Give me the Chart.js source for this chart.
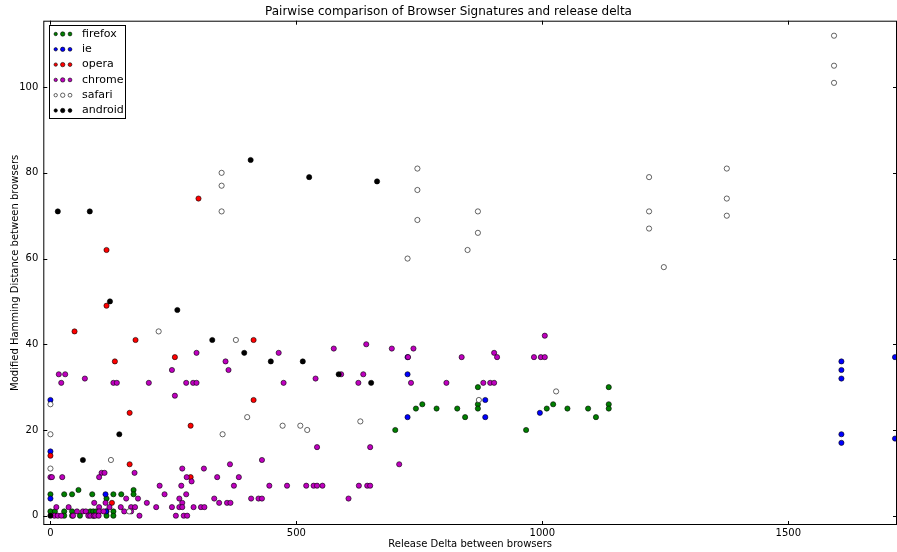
<!DOCTYPE html>
<html>
<head>
<meta charset="utf-8">
<script src="https://cdn.jsdelivr.net/npm/chart.js@4/dist/chart.umd.min.js"></script>
<style>
  body { margin: 0; background: #fff; }
  canvas { display: block; }
</style>
</head>
<body>
<canvas id="chart" width="897" height="552"></canvas>
<script>
// ---- data ----
const seriesNames = ['firefox', 'ie', 'opera', 'chrome', 'safari', 'android'];

const firefoxX = [57, 169, 0, 28, 44, 85, 128, 144, 169, 114, 0, 9, 28, 44, 81, 87, 93, 114, 128, 28, 44, 60, 87, 114, 128,
    869, 1135, 756, 869, 1022, 1135, 743, 785, 827, 869, 1009, 1051, 1093, 1135, 843, 1109, 701, 967];
const firefoxY = [6, 6, 5, 5, 5, 5, 5, 5, 5, 4, 1, 1, 1, 1, 1, 1, 1, 1, 1, 0, 0, 0, 0, 0, 0,
    30, 30, 26, 26, 26, 26, 25, 25, 25, 25, 25, 25, 25, 25, 23, 23, 20, 20];

const ieX = [0, 0, 0, 112, 113, 726, 726, 726, 884, 884, 995, 1608, 1608, 1608, 1608, 1608, 1717, 1717];
const ieY = [27, 15, 4, 5, 1, 37, 33, 23, 27, 23, 24, 36, 34, 32, 19, 17, 37, 18];

const operaX = [301, 114, 114, 49, 173, 413, 253, 131, 413, 161, 285, 0, 161, 285, 125];
const operaY = [74, 62, 49, 43, 41, 41, 37, 36, 27, 24, 21, 14, 12, 9, 3];

const chromeX = [1005, 642, 576, 694, 738, 297, 464, 902, 727, 836, 908, 983, 997, 1005, 356, 247, 362, 17, 30, 591, 636, 70, 539,
    22, 128, 135, 200, 276, 290, 297, 474, 626, 733, 805, 880, 894, 902,
    253, 542, 650, 430, 365, 709, 268, 312, 104, 110, 171,
    0, 3, 24, 99, 277, 339, 383, 287,
    222, 266, 373, 445, 481, 520, 535, 542, 553, 627, 644, 650,
    232, 276, 154, 178, 262, 333, 408, 423, 430, 606,
    89, 112, 196, 268, 343, 359, 366,
    12, 37, 99, 120, 143, 164, 172, 215, 247, 262, 268, 291, 306, 313,
    54, 66, 72, 99, 108, 150, 164,
    8, 15, 22, 46, 77, 81, 88, 91, 98, 181, 255, 271, 278];
const chromeY = [42, 40, 39, 39, 39, 38, 38, 38, 37, 37, 37, 37, 37, 37, 36, 34, 34, 33, 33, 33, 33, 32, 32,
    31, 31, 31, 31, 31, 31, 31, 31, 31, 31, 31, 31, 31, 31,
    28, 16, 16, 13, 12, 12, 11, 11, 10, 10, 10,
    9, 9, 9, 9, 9, 9, 9, 8,
    7, 7, 7, 7, 7, 7, 7, 7, 7, 7, 7, 7,
    5, 5, 4, 4, 4, 4, 4, 4, 4, 4,
    3, 3, 3, 3, 3, 3, 3,
    2, 2, 2, 2, 2, 2, 2, 2, 2, 2, 2, 2, 2, 2,
    1, 1, 1, 1, 1, 1, 1,
    0, 0, 0, 0, 0, 0, 0, 0, 0, 0, 0, 0, 0];

const safariX = [1593, 1593, 1593, 746, 1375, 348, 1217, 348, 746, 1375, 348, 869, 1217, 1375, 746, 1217, 869, 848, 726, 1247,
    220, 377, 1028, 400, 871, 0, 630, 472, 508, 522, 0, 350, 123, 0, 160];
const safariY = [112, 105, 101, 81, 81, 80, 79, 77, 76, 74, 71, 71, 71, 70, 69, 67, 66, 62, 60, 58,
    43, 41, 29, 23, 27, 26, 22, 21, 21, 20, 19, 19, 13, 11, 1];

const androidX = [407, 526, 664, 15, 80, 121, 258, 329, 394, 448, 513, 586, 652, 140, 66, 0];
const androidY = [83, 79, 78, 71, 71, 50, 48, 41, 38, 36, 36, 33, 31, 19, 13, 0];

const xTickValues = [0, 500, 1000, 1500];
const yTickValues = [0, 20, 40, 60, 80, 100];

// ---- styles ----
const fillColors = ['#008000', '#0000ff', '#ff0000', '#bf00bf', '#ffffff', '#000000'];
const xsList = [firefoxX, ieX, operaX, chromeX, safariX, androidX];
const ysList = [firefoxY, ieY, operaY, chromeY, safariY, androidY];

const FONT = 'DejaVu Sans';

function toPoints(xs, ys) {
    return xs.map((x, i) => ({ x: x, y: ys[i] }));
}

const datasets = seriesNames.map((name, i) => ({
    label: name,
    data: toPoints(xsList[i], ysList[i]),
    backgroundColor: fillColors[i],
    borderColor: '#000000',
    borderWidth: 0.6,
    pointRadius: 2.6,
    pointHoverRadius: 2.6,
    order: seriesNames.length - i
}));

// box, inward ticks and the matplotlib-style legend
const framePlugin = {
    id: 'frame',
    afterDraw(chart) {
        const ctx = chart.ctx;
        const a = chart.chartArea;
        const xs = chart.scales.x, ys = chart.scales.y;
        ctx.save();
        ctx.strokeStyle = '#000';
        ctx.lineWidth = 1;
        ctx.strokeRect(a.left + 0.5, a.top + 0.5, a.right - a.left - 1, a.bottom - a.top - 1);

        const tl = 4;
        ctx.beginPath();
        xTickValues.forEach(v => {
            const px = Math.round(xs.getPixelForValue(v)) + 0.5;
            ctx.moveTo(px, a.bottom); ctx.lineTo(px, a.bottom - tl);
            ctx.moveTo(px, a.top); ctx.lineTo(px, a.top + tl);
        });
        yTickValues.forEach(v => {
            const py = Math.round(ys.getPixelForValue(v)) + 0.5;
            ctx.moveTo(a.left, py); ctx.lineTo(a.left + tl, py);
            ctx.moveTo(a.right, py); ctx.lineTo(a.right - tl, py);
        });
        ctx.stroke();

        // legend
        const lx = 49.5, ly = 25.5, lw = 76, lh = 93;
        ctx.fillStyle = '#fff';
        ctx.fillRect(lx, ly, lw, lh);
        ctx.strokeRect(lx, ly, lw, lh);
        const dotX = [55.7, 62.7, 70];
        const dotR = [1.7, 2.2, 1.9];
        ctx.font = '11px "' + FONT + '"';
        ctx.textBaseline = 'middle';
        seriesNames.forEach((name, i) => {
            const yy = 34 + i * 15.3;
            dotX.forEach((dx, k) => {
                ctx.beginPath();
                ctx.arc(dx, yy, dotR[k], 0, Math.PI * 2);
                ctx.fillStyle = fillColors[i];
                ctx.fill();
                ctx.lineWidth = 0.6;
                ctx.strokeStyle = '#000';
                ctx.stroke();
            });
            ctx.fillStyle = '#000';
            ctx.fillText(name, 82, yy);
        });
        ctx.restore();
    }
};

new Chart(document.getElementById('chart'), {
    type: 'scatter',
    data: { datasets: datasets },
    options: {
        responsive: false,
        animation: false,
        devicePixelRatio: 1,
        layout: { padding: 0, autoPadding: false },
        plugins: {
            legend: { display: false },
            tooltip: { enabled: false },
            title: {
                display: true,
                text: 'Pairwise comparison of Browser Signatures and release delta',
                color: '#000',
                font: { family: FONT, size: 12, weight: 'normal' },
                padding: { top: 5, bottom: 1.3 }
            }
        },
        scales: {
            x: {
                type: 'linear',
                min: -14.5,
                max: 1721,
                grid: { display: false, drawTicks: false },
                border: { display: false },
                afterBuildTicks: s => { s.ticks = xTickValues.map(v => ({ value: v })); },
                afterFit: s => { s.height = 27; },
                ticks: {
                    color: '#000',
                    font: { family: FONT, size: 10 },
                    padding: 2,
                    maxRotation: 0,
                    callback: v => String(v)
                },
                title: {
                    display: true,
                    text: 'Release Delta between browsers',
                    color: '#000',
                    font: { family: FONT, size: 10 },
                    padding: { top: 0, bottom: 2 }
                }
            },
            y: {
                type: 'linear',
                min: -2.17,
                max: 115.5,
                grid: { display: false, drawTicks: false },
                border: { display: false },
                afterBuildTicks: s => { s.ticks = yTickValues.map(v => ({ value: v })); },
                afterFit: s => { s.width = 43.3; },
                ticks: {
                    color: '#000',
                    font: { family: FONT, size: 10 },
                    padding: 5,
                    callback: v => String(v)
                },
                title: {
                    display: true,
                    text: 'Modified Hamming Distance between browsers',
                    color: '#000',
                    font: { family: FONT, size: 10 },
                    padding: { top: 9, bottom: 0 }
                }
            }
        }
    },
    plugins: [framePlugin]
});
</script>
</body>
</html>
